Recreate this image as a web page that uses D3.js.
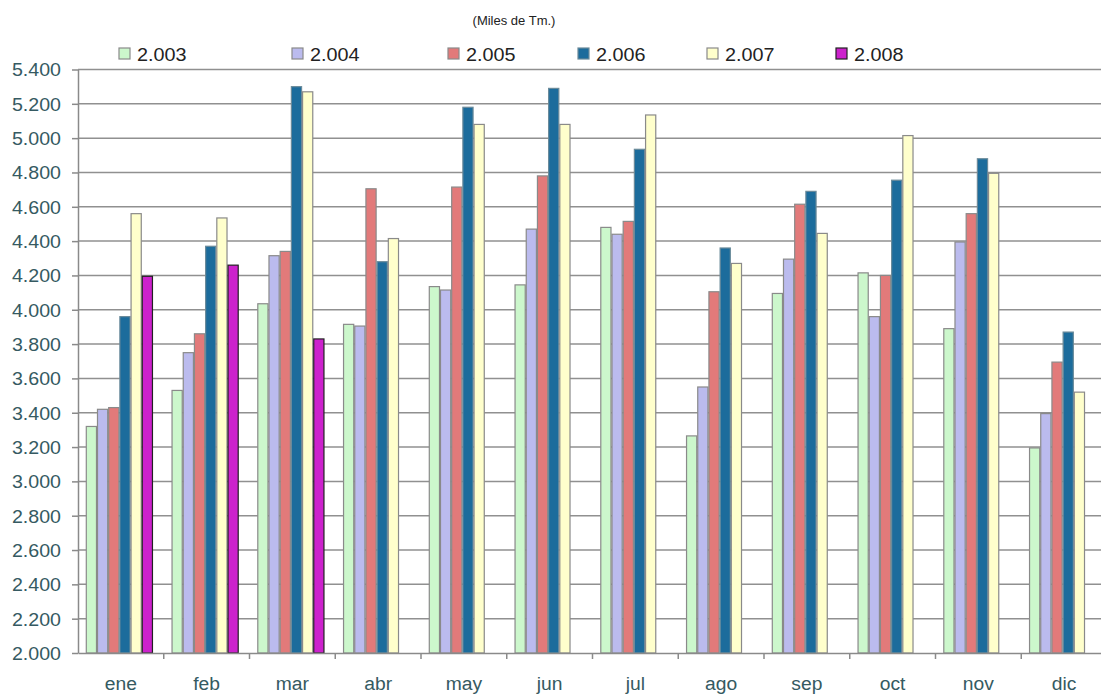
<!DOCTYPE html>
<html>
<head>
<meta charset="utf-8">
<script src="https://cdn.jsdelivr.net/npm/d3@7"></script>
<style>
  body { margin: 0; background: #fff; }
  text { font-family: Arial, "Liberation Sans", sans-serif; }
</style>
</head>
<body>
<div id="chart"></div>
<script>
// Data (miles de Tm.)
const months = ["ene", "feb", "mar", "abr", "may", "jun", "jul", "ago", "sep", "oct", "nov", "dic"];
const years = ["2.003", "2.004", "2.005", "2.006", "2.007", "2.008"];
const s2003 = [3320, 3530, 4035, 3915, 4135, 4145, 4480, 3265, 4095, 4215, 3890, 3195];
const s2004 = [3420, 3750, 4315, 3905, 4115, 4470, 4440, 3550, 4295, 3960, 4395, 3395];
const s2005 = [3430, 3860, 4340, 4705, 4715, 4780, 4515, 4105, 4615, 4200, 4560, 3695];
const s2006 = [3960, 4370, 5300, 4280, 5180, 5290, 4935, 4360, 4690, 4755, 4880, 3870];
const s2007 = [4560, 4535, 5270, 4415, 5080, 5080, 5135, 4270, 4445, 5015, 4795, 3520];
const s2008 = [4195, 4260, 3830, null, null, null, null, null, null, null, null, null];
const yTicks = d3.range(2000, 5401, 200);

const series = [s2003, s2004, s2005, s2006, s2007, s2008];
const fills = ["#ccf7cc", "#bbbbee", "#e27a7a", "#1c6c9c", "#ffffcc", "#cc22cc"];
const strokes = ["#8a8a8a", "#8a8a8a", "#8a8a8a", "#6a8a9a", "#8a8a8a", "#222"];
const legendX = [119, 292, 448, 578, 707, 836];

const W = 1101, H = 695;
const plot = { left: 78, right: 1107, top: 69.5, bottom: 653 };
const stretch = 1.09; // reference text is a bit wider than the font

const svg = d3.select("#chart")
    .append("svg")
        .attr("width", W)
        .attr("height", H);

const x = d3.scaleBand()
    .domain(months)
    .range([plot.left, plot.right])
    .padding(0);

const xSub = d3.scaleBand()
    .domain(years)
    .range([0, x.bandwidth()])
    .paddingInner(0)
    .paddingOuter(0.83);

const y = d3.scaleLinear()
    .domain([2000, 5400])
    .range([plot.bottom, plot.top]);

const fmt = d3.formatLocale({ decimal: ",", thousands: ".", grouping: [3], currency: ["", ""] }).format(",d");

// Gridlines
svg.append("g")
    .selectAll("line")
    .data(yTicks.filter(d => d > 2000))
    .join("line")
        .attr("x1", plot.left)
        .attr("x2", plot.right)
        .attr("y1", d => y(d))
        .attr("y2", d => y(d))
        .attr("stroke", "#909090")
        .attr("stroke-width", 1.5);

// Bars
const rows = months.map((m, i) => ({ month: m, values: years.map((yr, j) => ({ year: yr, j, v: series[j][i] })) }));

svg.append("g")
    .selectAll("g")
    .data(rows)
    .join("g")
        .attr("transform", d => `translate(${x(d.month) - 1.5},0)`)
    .selectAll("rect")
    .data(d => d.values.filter(e => e.v != null))
    .join("rect")
        .attr("x", d => xSub(d.year) + 0.5)
        .attr("y", d => y(d.v))
        .attr("width", xSub.bandwidth() - 1)
        .attr("height", d => plot.bottom - y(d.v))
        .attr("fill", d => fills[d.j])
        .attr("stroke", d => strokes[d.j])
        .attr("stroke-width", 1.2);

// Y axis
const yAxis = svg.append("g")
    .attr("transform", `translate(${plot.left},0)`)
    .call(d3.axisLeft(y).tickValues(yTicks).tickFormat(fmt).tickSize(6).tickPadding(11).tickSizeOuter(0));
yAxis.select(".domain").attr("stroke", "#8a8a8a").attr("stroke-width", 1.5);
yAxis.selectAll(".tick line").attr("stroke", "#8a8a8a").attr("stroke-width", 1.5);
yAxis.selectAll(".tick text")
    .attr("fill", "#355a62")
    .style("font-size", "18px")
    .attr("x", -17 / stretch)
    .attr("transform", `scale(${stretch},1)`)
    .attr("dy", "0.36em");

// X axis
const xAxis = svg.append("g")
    .attr("transform", `translate(0,${plot.bottom})`)
    .call(d3.axisBottom(x).tickSize(0).tickPadding(24).tickSizeOuter(0));
xAxis.select(".domain").attr("stroke", "#8a8a8a").attr("stroke-width", 1.5);
xAxis.selectAll(".tick text")
    .attr("fill", "#355a62")
    .style("font-size", "18px")
    .attr("transform", "scale(1.07,1)");

// Category boundary ticks
svg.append("g")
    .selectAll("line")
    .data(months.slice(1))
    .join("line")
        .attr("x1", d => x(d))
        .attr("x2", d => x(d))
        .attr("y1", plot.bottom)
        .attr("y2", plot.bottom + 6)
        .attr("stroke", "#8a8a8a")
        .attr("stroke-width", 1.5);

// Title
svg.append("text")
    .attr("x", 514)
    .attr("y", 25)
    .attr("text-anchor", "middle")
    .style("font-size", "13px")
    .attr("fill", "#222")
    .text("(Miles de Tm.)");

// Legend
const legend = svg.append("g")
    .selectAll("g")
    .data(years)
    .join("g")
        .attr("transform", (d, i) => `translate(${legendX[i]},48)`);

legend.append("rect")
    .attr("width", 11)
    .attr("height", 11)
    .attr("fill", (d, i) => fills[i])
    .attr("stroke", (d, i) => strokes[i])
    .attr("stroke-width", 1.2);

legend.append("text")
    .attr("transform", "translate(18,13) scale(1.1,1)")
    .style("font-size", "18px")
    .attr("fill", "#222")
    .text(d => d);
</script>
</body>
</html>
